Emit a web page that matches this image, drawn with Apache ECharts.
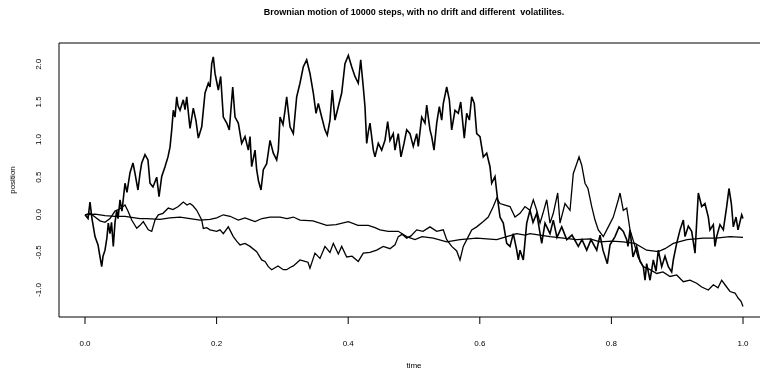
<!DOCTYPE html>
<html>
<head>
<meta charset="utf-8">
<script src="https://cdn.jsdelivr.net/npm/echarts@6/dist/echarts.min.js"></script>
<style>
  html, body { margin: 0; padding: 0; background: #fff; }
  #chart { width: 760px; height: 372px; }
</style>
</head>
<body>
<div id="chart"></div>
<script>
// Three Brownian paths sampled over time in [0, 1], with volatilities from large to small.
const timeRange = [0, 1];          // time axis, ticks every 0.2
const tickRangeY = [-1, 2];        // position axis, ticks every 0.5
const plotRangeY = [-1.359, 2.285];
const xTickValues = [0, 0.2, 0.4, 0.6, 0.8, 1.0];
const yTickValues = [-1.0, -0.5, 0.0, 0.5, 1.0, 1.5, 2.0];

// High-volatility path
const timeA = [0,0.0026,0.0046,0.0076,0.0106,0.0152,0.0198,0.0228,0.0254,0.0274,0.0304,0.0334,0.0354,0.0380,0.0403,0.0430,0.0456,0.0482,0.0502,0.0532,0.0562,0.0608,0.0638,0.0684,0.0729,0.0760,0.0786,0.0805,0.0836,0.0862,0.0912,0.0957,0.0988,0.1033,0.1090,0.1125,0.1166,0.1216,0.1261,0.1292,0.1318,0.1342,0.1368,0.1394,0.1413,0.1444,0.1494,0.1520,0.1546,0.1596,0.1646,0.1687,0.1722,0.1774,0.1824,0.1874,0.1900,0.1926,0.1950,0.1976,0.2026,0.2062,0.2102,0.2154,0.2193,0.2245,0.2280,0.2330,0.2381,0.2432,0.2482,0.2508,0.2533,0.2584,0.2609,0.2637,0.2675,0.2710,0.2761,0.2812,0.2862,0.2913,0.2938,0.2964,0.3009,0.3040,0.3065,0.3093,0.3116,0.3166,0.3217,0.3267,0.3318,0.3369,0.3419,0.3470,0.3511,0.3546,0.3597,0.3647,0.3682,0.3723,0.3758,0.3799,0.3850,0.3901,0.3951,0.4002,0.4053,0.4103,0.4153,0.4190,0.4229,0.4255,0.4281,0.4305,0.4331,0.4382,0.4407,0.4457,0.4509,0.4559,0.4600,0.4635,0.4685,0.4711,0.4761,0.4802,0.4848,0.4889,0.4939,0.4989,0.5041,0.5065,0.5117,0.5167,0.5193,0.5243,0.5269,0.5304,0.5345,0.5385,0.5421,0.5445,0.5497,0.5537,0.5573,0.5623,0.5673,0.5710,0.5764,0.5801,0.5841,0.5877,0.5916,0.5953,0.6003,0.6053,0.6105,0.6155,0.6181,0.6231,0.6266,0.6307,0.6357,0.6409,0.6459,0.6509,0.6561,0.6585,0.6611,0.6661,0.6713,0.6763,0.6809,0.6865,0.6941,0.6991,0.7067,0.7117,0.7173,0.7245,0.7321,0.7401,0.7497,0.7553,0.7625,0.7690,0.7777,0.7827,0.7872,0.7938,0.7979,0.8055,0.8116,0.8181,0.8233,0.8252,0.8283,0.8328,0.8384,0.8435,0.8485,0.8511,0.8536,0.8587,0.8637,0.8678,0.8713,0.8764,0.8815,0.8865,0.8916,0.8941,0.8992,0.9043,0.9093,0.9119,0.9169,0.9220,0.9271,0.9296,0.9321,0.9372,0.9422,0.9473,0.9498,0.9549,0.9574,0.9600,0.9650,0.9701,0.9752,0.9787,0.9823,0.9853,0.9894,0.9924,0.9980,1.0];
const posA = [0,0.02,-0.05,0.17,-0.05,-0.29,-0.40,-0.56,-0.69,-0.55,-0.47,-0.30,-0.11,-0.25,-0.10,-0.42,-0.10,0.06,-0.05,0.20,0.05,0.42,0.30,0.56,0.69,0.55,0.42,0.33,0.55,0.69,0.80,0.73,0.42,0.37,0.50,0.24,0.51,0.64,0.77,0.90,1.13,1.39,1.30,1.57,1.45,1.39,1.53,1.40,1.57,1.15,1.42,1.25,1.02,1.17,1.62,1.75,1.70,2.01,2.10,1.88,1.66,1.84,1.30,1.22,1.13,1.70,1.30,1.22,0.95,1.04,0.86,1.04,0.64,0.86,0.60,0.45,0.33,0.60,0.68,0.99,0.82,0.73,0.86,1.30,1.20,1.39,1.57,1.35,1.17,1.08,1.57,1.75,1.97,2.06,1.88,1.62,1.35,1.48,1.30,1.13,1.06,1.26,1.66,1.26,1.44,1.62,2.01,2.12,1.97,1.84,1.75,2.06,1.70,1.44,0.95,1.10,1.22,0.86,0.77,0.95,0.86,0.99,1.24,0.99,1.08,0.86,1.08,0.77,0.95,1.13,1.08,0.91,1.08,0.91,1.30,1.22,1.46,1.13,1.04,0.86,1.22,1.44,1.26,1.48,1.70,1.53,1.13,1.39,1.35,1.50,1.02,1.35,1.26,1.57,1.48,1.08,1.04,0.77,0.82,0.64,0.42,0.51,0.24,-0.03,-0.11,-0.38,-0.42,-0.25,-0.47,-0.60,-0.47,-0.60,-0.11,0.06,-0.10,0.02,-0.38,-0.11,-0.25,-0.07,-0.30,-0.16,-0.33,-0.27,-0.42,-0.33,-0.47,-0.33,-0.47,-0.27,-0.47,-0.65,-0.40,-0.29,-0.16,-0.22,-0.33,-0.42,-0.20,-0.56,-0.42,-0.62,-0.69,-0.87,-0.65,-0.87,-0.60,-0.75,-0.47,-0.69,-0.55,-0.69,-0.76,-0.60,-0.38,-0.20,-0.07,-0.29,-0.15,-0.22,-0.51,-0.10,0.29,0.11,0.15,-0.03,-0.20,-0.13,-0.42,-0.29,-0.13,-0.20,0.11,0.35,0.15,-0.16,-0.03,-0.20,0.00,-0.05];

// Medium-volatility path
const timeB = [0,0.0076,0.0152,0.0228,0.0304,0.0380,0.0456,0.0532,0.0608,0.0653,0.0710,0.0786,0.0836,0.0886,0.0912,0.0962,0.1014,0.1064,0.1114,0.1185,0.1266,0.1337,0.1418,0.1494,0.1550,0.1596,0.1641,0.1698,0.1774,0.1798,0.1850,0.1900,0.2002,0.2052,0.2102,0.2178,0.2254,0.2305,0.2356,0.2432,0.2508,0.2609,0.2685,0.2736,0.2786,0.2837,0.2862,0.2933,0.3014,0.3065,0.3116,0.3166,0.3217,0.3267,0.3343,0.3389,0.3419,0.3495,0.3571,0.3647,0.3723,0.3774,0.3850,0.3901,0.3977,0.4058,0.4153,0.4229,0.4331,0.4433,0.4533,0.4635,0.4711,0.4761,0.4818,0.4889,0.4954,0.5041,0.5137,0.5243,0.5345,0.5445,0.5497,0.5573,0.5649,0.5699,0.5749,0.5825,0.5877,0.5953,0.6053,0.6129,0.6205,0.6257,0.6307,0.6383,0.6459,0.6535,0.6611,0.6687,0.6763,0.6813,0.6865,0.6915,0.6960,0.7017,0.7067,0.7117,0.7184,0.7219,0.7295,0.7371,0.7421,0.7473,0.7508,0.7549,0.7599,0.7644,0.7701,0.7751,0.7801,0.7877,0.7953,0.8029,0.8105,0.8131,0.8181,0.8233,0.8283,0.8359,0.8404,0.8485,0.8587,0.8689,0.8784,0.8891,0.8992,0.9093,0.9195,0.9296,0.9372,0.9473,0.9549,0.9620,0.9676,0.9726,0.9802,0.9878,0.9929,0.9970,1.0];
const posB = [0,0.02,-0.03,-0.08,-0.10,-0.05,0.05,0.08,0.13,0.05,-0.07,-0.18,-0.14,-0.09,-0.11,-0.20,-0.22,-0.07,0.00,0.02,0.09,0.07,0.11,0.17,0.13,0.15,0.12,0.06,-0.07,-0.18,-0.17,-0.20,-0.22,-0.20,-0.25,-0.16,-0.29,-0.35,-0.40,-0.38,-0.42,-0.49,-0.60,-0.62,-0.69,-0.73,-0.73,-0.68,-0.73,-0.73,-0.70,-0.68,-0.64,-0.60,-0.62,-0.63,-0.71,-0.51,-0.58,-0.42,-0.50,-0.38,-0.52,-0.42,-0.56,-0.55,-0.62,-0.51,-0.50,-0.47,-0.42,-0.45,-0.40,-0.29,-0.26,-0.31,-0.28,-0.20,-0.22,-0.16,-0.22,-0.20,-0.33,-0.42,-0.48,-0.60,-0.42,-0.29,-0.20,-0.16,-0.09,-0.03,0.11,0.22,0.15,0.13,0.11,-0.03,0.02,0.11,0.06,0.20,0.06,-0.11,0.02,0.20,-0.11,0.02,0.29,-0.11,0.15,0.06,0.55,0.68,0.77,0.66,0.42,0.35,0.11,-0.07,-0.20,-0.29,-0.16,-0.03,0.20,0.29,0.06,0.09,-0.20,-0.42,-0.56,-0.69,-0.73,-0.78,-0.76,-0.82,-0.80,-0.89,-0.87,-0.91,-0.96,-1.00,-0.93,-0.97,-0.87,-0.93,-1.02,-1.04,-1.11,-1.15,-1.22];

// Low-volatility path
const timeC = [0,0.0152,0.0304,0.0456,0.0608,0.0684,0.0836,0.0938,0.1140,0.1292,0.1444,0.1596,0.1748,0.1900,0.2002,0.2102,0.2204,0.2330,0.2432,0.2584,0.2690,0.2812,0.2964,0.3070,0.3166,0.3267,0.3465,0.3673,0.3815,0.4002,0.4149,0.4305,0.4407,0.4483,0.4609,0.4761,0.4889,0.5015,0.5122,0.5293,0.5497,0.5699,0.5953,0.6257,0.6409,0.6561,0.6687,0.6763,0.7067,0.7269,0.7473,0.7675,0.7827,0.8009,0.8181,0.8359,0.8536,0.8713,0.8815,0.8941,0.9149,0.9397,0.9590,0.9802,1.0];
const posC = [0,0.01,-0.01,-0.02,-0.02,-0.03,-0.05,-0.05,-0.06,-0.04,-0.03,-0.05,-0.07,-0.06,-0.04,0.00,-0.02,-0.07,-0.04,-0.09,-0.05,-0.03,-0.03,-0.05,-0.03,-0.07,-0.08,-0.14,-0.13,-0.09,-0.14,-0.14,-0.17,-0.20,-0.22,-0.22,-0.29,-0.33,-0.29,-0.31,-0.36,-0.33,-0.31,-0.33,-0.29,-0.25,-0.27,-0.25,-0.29,-0.31,-0.33,-0.32,-0.36,-0.35,-0.36,-0.38,-0.47,-0.49,-0.45,-0.38,-0.33,-0.31,-0.31,-0.29,-0.30];

const pair = (ts, vs) => ts.map((t, i) => [t, vs[i]]);
const FONT = '"Liberation Sans", Arial, Helvetica, sans-serif';
const BLACK = '#000';

// Layout of the plotting box (pixels) and the data scale derived from it.
const DATA_LEFT = 85, DATA_WIDTH = 658, BOX_LEFT = 59, BOX_TOP = 43, BOX_HEIGHT = 274, TICK_LEN = 7;
const timePerPx = (timeRange[1] - timeRange[0]) / DATA_WIDTH;
const posPerPx = (plotRangeY[1] - plotRangeY[0]) / BOX_HEIGHT;
const boxLeftTime = timeRange[0] - (DATA_LEFT - BOX_LEFT) * timePerPx;

const chart = echarts.init(document.getElementById('chart'), null, { renderer: 'canvas' });

function pathSeries(ts, vs, w) {
  return {
    type: 'line',
    xAxisIndex: 0, yAxisIndex: 0,
    data: pair(ts, vs),
    showSymbol: false,
    symbol: 'none',
    smooth: false,
    lineStyle: { color: BLACK, width: w, join: 'miter', miterLimit: 4 },
    emphasis: { disabled: true },
    clip: false,
    z: 3
  };
}

// Outward tick marks as short segments in data units, drawn through the data scale.
function tickSegment(p0, p1) {
  return {
    type: 'line',
    xAxisIndex: 0, yAxisIndex: 0,
    data: [p0, p1],
    showSymbol: false,
    symbol: 'none',
    lineStyle: { color: BLACK, width: 1 },
    emphasis: { disabled: true },
    silent: true,
    clip: false,
    z: 4
  };
}
const xTickSeries = xTickValues.map(t =>
  tickSegment([t, plotRangeY[0]], [t, plotRangeY[0] - TICK_LEN * posPerPx]));
const yTickSeries = yTickValues.map(v =>
  tickSegment([boxLeftTime, v], [boxLeftTime - TICK_LEN * timePerPx, v]));

const hidden = (gridIndex, min, max) => ({ type: 'value', gridIndex, min, max, show: false });

// Axis that only carries the tick labels.
const labelAxis = (gridIndex, range, interval, label) => ({
  type: 'value', gridIndex, min: range[0], max: range[1], interval,
  axisLine: { show: false, onZero: false },
  axisTick: { show: false },
  splitLine: { show: false },
  axisLabel: Object.assign({ formatter: v => v.toFixed(1), fontFamily: FONT, fontSize: 8, color: BLACK,
    showMinLabel: true, showMaxLabel: true }, label)
});

chart.setOption({
  animation: false,
  backgroundColor: '#fff',
  grid: [
    // 0: data area, time 0..1
    { left: DATA_LEFT, top: BOX_TOP, width: DATA_WIDTH, height: BOX_HEIGHT, show: false, outerBoundsMode: 'none' },
    // 1: plotting box
    { left: BOX_LEFT, top: BOX_TOP, width: 712, height: BOX_HEIGHT, show: true, borderColor: BLACK, borderWidth: 1,
      backgroundColor: 'transparent', outerBoundsMode: 'none' },
    // 2: time labels below the box
    { left: DATA_LEFT, top: BOX_TOP + BOX_HEIGHT, width: DATA_WIDTH, height: TICK_LEN, show: false, outerBoundsMode: 'none' },
    // 3: position labels left of the box
    { left: BOX_LEFT - TICK_LEN, top: 64.3, width: TICK_LEN, height: 225.6, show: false, outerBoundsMode: 'none' }
  ],
  xAxis: [
    hidden(0, timeRange[0], timeRange[1]),
    hidden(1, 0, 1),
    labelAxis(2, timeRange, 0.2, { margin: 16 }),
    hidden(3, 0, 1)
  ],
  yAxis: [
    hidden(0, plotRangeY[0], plotRangeY[1]),
    hidden(1, 0, 1),
    hidden(2, 0, 1),
    labelAxis(3, tickRangeY, 0.5, { margin: 9, rotate: 90 })
  ],
  graphic: [
    { type: 'text', x: 414, y: 13, style: { text: 'Brownian motion of 10000 steps, with no drift and different  volatilites.', font: 'bold 9px ' + FONT, fill: BLACK, textAlign: 'center', textVerticalAlign: 'middle' } },
    { type: 'text', x: 414, y: 366, style: { text: 'time', font: '8px ' + FONT, fill: BLACK, textAlign: 'center', textVerticalAlign: 'middle' } },
    { type: 'text', x: 13, y: 180, rotation: Math.PI / 2, style: { text: 'position', font: '8px ' + FONT, fill: BLACK, textAlign: 'center', textVerticalAlign: 'middle' } }
  ],
  series: [
    pathSeries(timeA, posA, 1.6),
    pathSeries(timeB, posB, 1.3),
    pathSeries(timeC, posC, 1.2)
  ].concat(xTickSeries, yTickSeries)
});
</script>
</body>
</html>
